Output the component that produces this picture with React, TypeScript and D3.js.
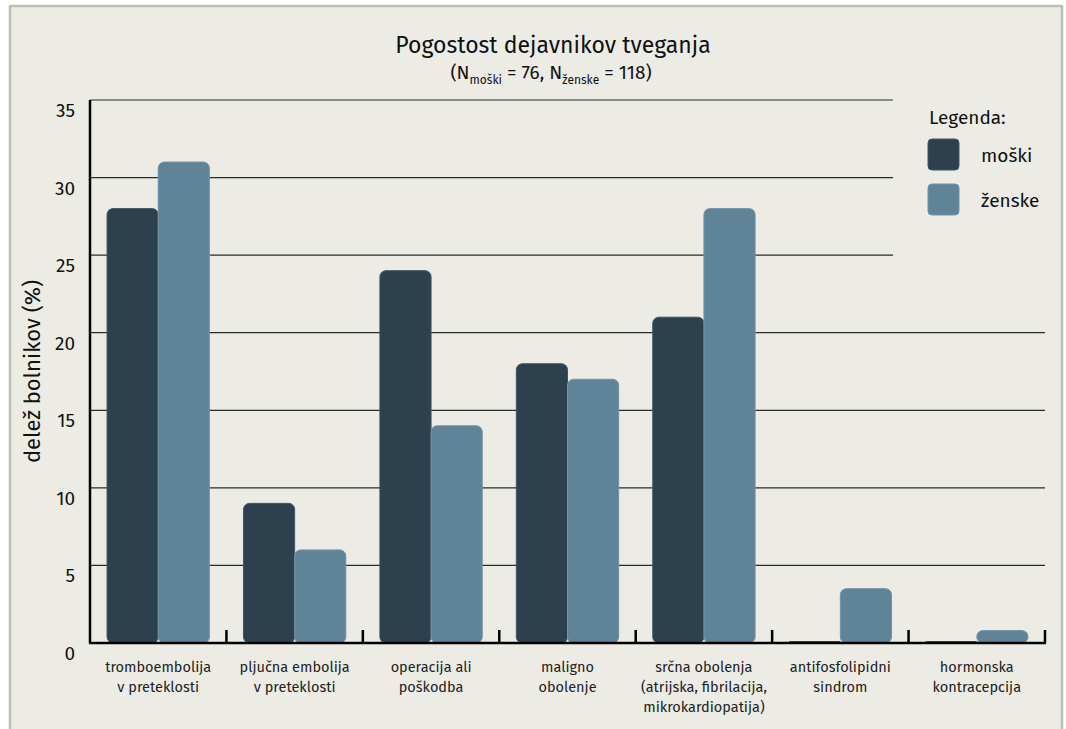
import * as d3 from "d3"

const categories = [
  ["tromboembolija", "v preteklosti"],
  ["pljučna embolija", "v preteklosti"],
  ["operacija ali", "poškodba"],
  ["maligno", "obolenje"],
  ["srčna obolenja", "(atrijska, fibrilacija,", "mikrokardiopatija)"],
  ["antifosfolipidni", "sindrom"],
  ["hormonska", "kontracepcija"],
]
const moski = [28, 9, 24, 18, 21, 0, 0]
const zenske = [31, 6, 14, 17, 28, 3.5, 0.8]
const yTicks = [0, 5, 10, 15, 20, 25, 30, 35]
const seriesNames = ["moški", "ženske"]
const colors = ["#2c404e", "#5f8498"]
const strokes = ["#3f5666", "#7393a5"]

const font = "'Fira Sans', 'Open Sans', 'Noto Sans', sans-serif"

export default function App() {
  const margin = { left: 90, right: 1045, top: 100, bottom: 643 }

  const x = d3
    .scaleBand()
    .domain(categories.map((_, i) => String(i)))
    .range([margin.left, margin.right])
  const inner = d3
    .scaleBand()
    .domain(["0", "1"])
    .range([0, x.bandwidth()])
    .paddingOuter(0.333)
    .paddingInner(0)
  const y = d3.scaleLinear().domain([0, 35]).range([margin.bottom, margin.top])

  return (
    <svg
      width={1066}
      height={729}
      style={{ position: "absolute", left: 0, top: 0, fontFamily: font }}
    >
      <rect x={0} y={0} width={1066} height={729} fill="#ffffff" />
      <rect x={10} y={6} width={1052} height={740} fill="#ecece5" stroke="#bfbfb2" strokeWidth={2.5} />

      <text x={553} y={53} textAnchor="middle" fontSize={23} fill="#111">
        Pogostost dejavnikov tveganja
      </text>
      <text x={551} y={79} textAnchor="middle" fontSize={19} fill="#111">
        (N
        <tspan fontSize={12} dy={5}>moški</tspan>
        <tspan dy={-5}> = 76, N</tspan>
        <tspan fontSize={12} dy={5}>ženske</tspan>
        <tspan dy={-5}> = 118)</tspan>
      </text>

      {/* gridlines */}
      {yTicks.slice(1).map((t) => (
        <line
          key={t}
          x1={margin.left}
          x2={t >= 25 ? 893 : margin.right}
          y1={y(t)}
          y2={y(t)}
          stroke="#2a2a2a"
          strokeWidth={1.2}
        />
      ))}
      {yTicks.map((t) => (
        <text key={t} x={75} y={y(t) + 17} textAnchor="end" fontSize={19} fill="#111">
          {t}
        </text>
      ))}

      <text
        transform={`translate(40, ${(margin.top + margin.bottom) / 2}) rotate(-90)`}
        textAnchor="middle"
        fontSize={22}
        fill="#111"
      >
        delež bolnikov (%)
      </text>

      {/* bars */}
      {categories.map((_, i) =>
        [moski[i], zenske[i]].map((v, s) => {
          const bx = (x(String(i)) ?? 0) + (inner(String(s)) ?? 0)
          const h = Math.max(margin.bottom - y(v), 1.5)
          return (
            <rect
              key={`${i}-${s}`}
              x={bx}
              y={margin.bottom - h}
              width={inner.bandwidth()}
              height={h}
              rx={Math.min(6, h / 2)}
              fill={colors[s]}
              stroke={strokes[s]}
              strokeWidth={1}
            />
          )
        })
      )}

      {/* axes */}
      <line x1={margin.left} x2={margin.left} y1={margin.top} y2={margin.bottom} stroke="#000" strokeWidth={2.5} />
      <line x1={margin.left - 1} x2={margin.right + 1} y1={margin.bottom} y2={margin.bottom} stroke="#000" strokeWidth={2.5} />
      {categories.map((_, i) => {
        const tx = (x(String(i)) ?? 0) + x.bandwidth()
        return <line key={i} x1={tx} x2={tx} y1={margin.bottom - 13} y2={margin.bottom} stroke="#000" strokeWidth={2.5} />
      })}

      {categories.map((lines, i) => (
        <text
          key={i}
          x={(x(String(i)) ?? 0) + x.bandwidth() / 2}
          y={672}
          textAnchor="middle"
          fontSize={14.5}
          fill="#222"
        >
          {lines.map((l, j) => (
            <tspan key={j} x={(x(String(i)) ?? 0) + x.bandwidth() / 2} dy={j === 0 ? 0 : 20}>
              {l}
            </tspan>
          ))}
        </text>
      ))}

      {/* legend */}
      <text x={929} y={124} fontSize={19} fill="#111">
        Legenda:
      </text>
      {seriesNames.map((n, s) => (
        <g key={n}>
          <rect x={928} y={139 + s * 45} width={31} height={31} rx={4} fill={colors[s]} stroke={strokes[s]} />
          <text x={981} y={162 + s * 45} fontSize={19} fill="#111">
            {n}
          </text>
        </g>
      ))}
    </svg>
  )
}
